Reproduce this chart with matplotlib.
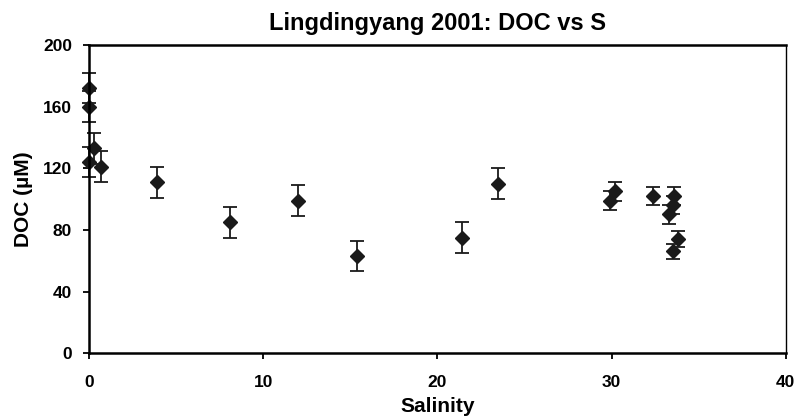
import matplotlib
matplotlib.use("Agg")
import matplotlib.pyplot as plt

# data
salinity = [0.0, 0.0, 0.3, 0.0, 0.7, 3.9, 8.1, 12.0, 15.4, 21.4, 23.5,
            29.9, 30.2, 32.4, 33.6, 33.5, 33.3, 33.8, 33.5]
doc = [172, 160, 133, 124, 121, 111, 85, 99, 63, 75, 110,
       99, 105, 102, 102, 96, 90, 74, 66]
doc_err = [10, 10, 10, 10, 10, 10, 10, 10, 10, 10, 10,
           6, 6, 6, 6, 6, 6, 5, 5]

xticks = [0, 10, 20, 30, 40]
yticks = [0, 40, 80, 120, 160, 200]

plt.rcParams["font.family"] = ["Liberation Sans", "DejaVu Sans"]
plt.rcParams["font.weight"] = "bold"

fig = plt.figure(figsize=(8.01, 4.16), dpi=100)
ax = fig.add_axes([0.111, 0.151, 0.870, 0.741])

markers, caps, bars = ax.errorbar(
    salinity, doc, yerr=doc_err, fmt="D", color="#1a1a1a",
    markersize=7, ecolor="#1a1a1a", elinewidth=1.3,
    capsize=5, capthick=1.3)
# points at S=0 sit on the axis, keep them whole
markers.set_clip_on(False)
for c in caps:
    c.set_clip_on(False)
for b in bars:
    b.set_clip_on(False)

ax.set_xlim(0, 40)
ax.set_ylim(0, 200)
ax.set_xticks(xticks)
ax.set_yticks(yticks)
ax.tick_params(direction="out", length=4, width=1.3, labelsize=12.5)
ax.tick_params(axis="x", pad=12)
ax.tick_params(axis="y", pad=8)
for side in ["left", "bottom", "top"]:
    ax.spines[side].set_linewidth(1.8)
ax.spines["right"].set_linewidth(1.0)

ax.set_xlabel("Salinity", fontsize=15, fontweight="bold", labelpad=5)
ax.set_ylabel("DOC (µM)", fontsize=15, fontweight="bold", labelpad=7)
ax.set_title("Lingdingyang 2001: DOC vs S", fontsize=17, fontweight="bold", pad=11)

fig.savefig("out.png", dpi=100)
